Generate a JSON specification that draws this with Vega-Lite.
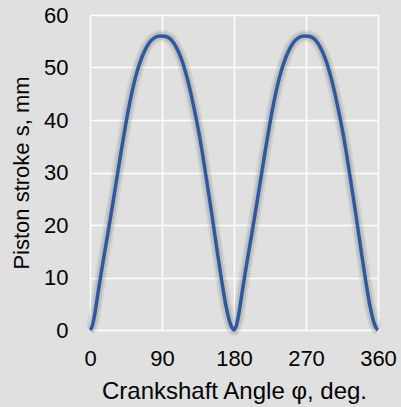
{
  "$schema": "https://vega.github.io/schema/vega-lite/v6.json",
  "width": 288,
  "height": 315,
  "autosize": {"type": "none"},
  "padding": {"left": 90, "top": 15, "right": 23, "bottom": 77},
  "background": "#e0e0e0",
  "config": {
    "view": {"stroke": null, "fill": "#e0e0e0"},
    "font": "Liberation Sans",
    "axis": {
      "domain": false,
      "ticks": false,
      "grid": true,
      "gridColor": "#ffffff",
      "gridWidth": 1.5,
      "gridOpacity": 1,
      "labelFont": "Liberation Sans",
      "labelFontSize": 22,
      "labelColor": "#000000",
      "labelFlush": false,
      "labelOverlap": false,
      "labelBound": false,
      "titleFont": "Liberation Sans",
      "titleFontSize": 22,
      "titleFontWeight": "normal",
      "titleColor": "#000000"
    }
  },
  "data": {
    "values": [
      {"phi": 0, "s": 0}, {"phi": 2, "s": 0.4}, {"phi": 5, "s": 2.2}, {"phi": 10, "s": 7}, {"phi": 15, "s": 11.8}, {"phi": 20, "s": 16.3},
      {"phi": 25, "s": 20.8}, {"phi": 30, "s": 25.5}, {"phi": 35, "s": 30.3}, {"phi": 40, "s": 35}, {"phi": 45, "s": 39.5},
      {"phi": 50, "s": 43.5}, {"phi": 55, "s": 47}, {"phi": 60, "s": 49.8}, {"phi": 65, "s": 52}, {"phi": 70, "s": 53.7},
      {"phi": 75, "s": 54.9}, {"phi": 80, "s": 55.6}, {"phi": 85, "s": 55.95}, {"phi": 90, "s": 56},
      {"phi": 95, "s": 55.9}, {"phi": 100, "s": 55.5}, {"phi": 105, "s": 54.6}, {"phi": 110, "s": 53.2}, {"phi": 115, "s": 51.3},
      {"phi": 120, "s": 48.8}, {"phi": 125, "s": 45.8}, {"phi": 130, "s": 42.3}, {"phi": 135, "s": 38.5}, {"phi": 140, "s": 34.2},
      {"phi": 145, "s": 29.3}, {"phi": 150, "s": 24.4}, {"phi": 155, "s": 19.2}, {"phi": 160, "s": 14}, {"phi": 165, "s": 9},
      {"phi": 170, "s": 4.6}, {"phi": 175, "s": 1.4}, {"phi": 178, "s": 0.3}, {"phi": 180, "s": 0},
      {"phi": 182, "s": 0.4}, {"phi": 185, "s": 2.2}, {"phi": 190, "s": 7}, {"phi": 195, "s": 11.8}, {"phi": 200, "s": 16.3},
      {"phi": 205, "s": 20.8}, {"phi": 210, "s": 25.5}, {"phi": 215, "s": 30.3}, {"phi": 220, "s": 35}, {"phi": 225, "s": 39.5},
      {"phi": 230, "s": 43.5}, {"phi": 235, "s": 47}, {"phi": 240, "s": 49.8}, {"phi": 245, "s": 52}, {"phi": 250, "s": 53.7},
      {"phi": 255, "s": 54.9}, {"phi": 260, "s": 55.6}, {"phi": 265, "s": 55.95}, {"phi": 270, "s": 56},
      {"phi": 275, "s": 55.9}, {"phi": 280, "s": 55.5}, {"phi": 285, "s": 54.6}, {"phi": 290, "s": 53.2}, {"phi": 295, "s": 51.3},
      {"phi": 300, "s": 48.8}, {"phi": 305, "s": 45.8}, {"phi": 310, "s": 42.3}, {"phi": 315, "s": 38.5}, {"phi": 320, "s": 34.2},
      {"phi": 325, "s": 29.3}, {"phi": 330, "s": 24.4}, {"phi": 335, "s": 19.2}, {"phi": 340, "s": 14}, {"phi": 345, "s": 9},
      {"phi": 350, "s": 4.6}, {"phi": 355, "s": 1.4}, {"phi": 358, "s": 0.3}, {"phi": 360, "s": 0}
    ]
  },
  "encoding": {
    "x": {
      "field": "phi", "type": "quantitative",
      "scale": {"domain": [0, 360], "nice": false, "zero": false},
      "axis": {"values": [0, 90, 180, 270, 360], "title": "Crankshaft Angle φ, deg.", "labelPadding": 18, "titlePadding": 10, "titleFontSize": 24}
    },
    "y": {
      "field": "s", "type": "quantitative",
      "scale": {"domain": [0, 60], "nice": false},
      "axis": {"values": [0, 10, 20, 30, 40, 50, 60], "title": "Piston stroke s, mm", "labelPadding": 22, "titlePadding": 10}
    }
  },
  "layer": [
    {"mark": {"type": "line", "interpolate": "monotone", "color": "#555555", "strokeWidth": 12, "opacity": 0.1}},
    {"mark": {"type": "line", "interpolate": "monotone", "color": "#555555", "strokeWidth": 8, "opacity": 0.16}},
    {"mark": {"type": "line", "interpolate": "monotone", "color": "#2e58a0", "strokeWidth": 3.5}}
  ]
}
